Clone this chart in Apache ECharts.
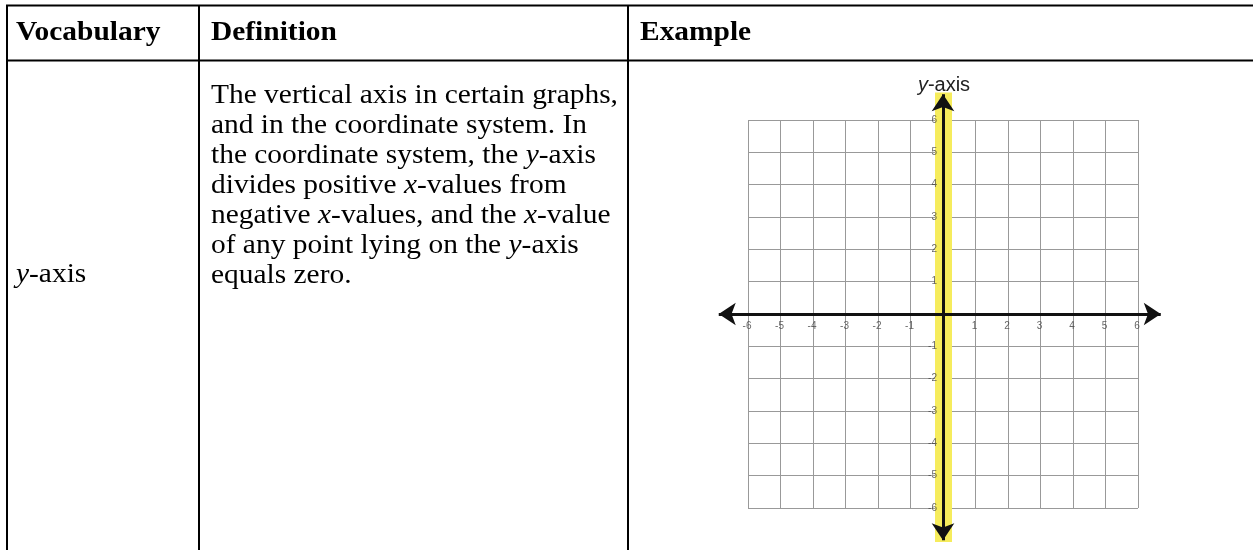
<!DOCTYPE html>
<html>
<head>
<meta charset="utf-8">
<script src="https://cdn.jsdelivr.net/npm/echarts@6/dist/echarts.min.js"></script>
<style>
html,body{margin:0;padding:0;background:#fff;}
#chart{width:1253px;height:550px;}
</style>
</head>
<body>
<div id="chart"></div>
<script>
// ---- data ----
const headers = ['Vocabulary', 'Definition', 'Example'];
const vocabTerm = '{m|y}-axis';
const definitionLines = [
  'The vertical axis in certain graphs,',
  'and in the coordinate system. In',
  'the coordinate system, the {m|y}-axis',
  'divides positive {m|x}-values from',
  'negative {m|x}-values, and the {m|x}-value',
  'of any point lying on the {m|y}-axis',
  'equals zero.'
];
const graphTitle = '{i|y}-axis';
const axisMin = -6;
const axisMax = 6;
const axisStep = 1;
const xTickLabels = [-6, -5, -4, -3, -2, -1, 1, 2, 3, 4, 5, 6];
const yTickLabels = [6, 5, 4, 3, 2, 1, -1, -2, -3, -4, -5, -6];
const xArrow = [[-6.9, 0], [6.7, 0]];
const yArrow = [[0, 6.8], [0, -7.0]];
const yHighlight = [[0, 6.85], [0, -7.05]];

// ---- layout ----
const chart = echarts.init(document.getElementById('chart'), null, {renderer: 'canvas'});
const SX = 1.09;
const FS = 27;
const serif = 'Liberation Serif';
const richMath = {
  m: {fontFamily: serif, fontStyle: 'italic', fontSize: FS, fill: '#000', color: '#000'}
};
function txt(text, x, y, bold) {
  return {
    type: 'text', x: x, y: y, scaleX: SX, scaleY: 1, originX: 0, originY: 0, z: 10,
    style: {
      text: text, fill: '#000', fontFamily: serif, fontSize: FS,
      fontWeight: bold ? 'bold' : 'normal', verticalAlign: 'middle', align: 'left',
      rich: richMath
    }
  };
}
const graphics = [];
const ln = (x1, y1, x2, y2) => ({type: 'line', z: 10, shape: {x1, y1, x2, y2}, style: {stroke: '#000', lineWidth: 2}});
graphics.push(ln(6, 5.5, 1253, 5.5));
graphics.push(ln(6, 60.5, 1253, 60.5));
graphics.push(ln(7, 5, 7, 550));
graphics.push(ln(199, 5, 199, 550));
graphics.push(ln(628, 5, 628, 550));
graphics.push(txt(headers[0], 16, 33, true));
graphics.push(txt(headers[1], 211, 33, true));
graphics.push(txt(headers[2], 640, 33, true));
definitionLines.forEach((l, i) => graphics.push(txt(l, 211, 96 + i * 30, false)));
graphics.push(txt(vocabTerm, 16, 275, false));
graphics.push({
  type: 'text', x: 944, y: 85, z: 10,
  style: {
    text: graphTitle, fill: '#222', fontFamily: 'Liberation Sans', fontSize: 20,
    align: 'center', verticalAlign: 'middle',
    rich: {i: {fontFamily: 'Liberation Sans', fontStyle: 'italic', fontSize: 20, fill: '#222', color: '#222'}}
  }
});

const gridLine = {show: true, lineStyle: {color: '#999999', width: 1}};
const option = {
  animation: false,
  backgroundColor: '#fff',
  grid: {left: 748, top: 120, width: 390, height: 388, containLabel: false},
  xAxis: {
    type: 'value', min: axisMin, max: axisMax, interval: axisStep,
    axisLine: {show: false}, axisTick: {show: false}, axisLabel: {show: false},
    splitLine: gridLine
  },
  yAxis: {
    type: 'value', min: axisMin, max: axisMax, interval: axisStep,
    axisLine: {show: false}, axisTick: {show: false}, axisLabel: {show: false},
    splitLine: gridLine
  },
  series: [
    {
      type: 'lines', coordinateSystem: 'cartesian2d', clip: false, z: 1,
      data: [{coords: yHighlight}],
      symbol: ['none', 'none'],
      lineStyle: {color: '#f6ec5c', width: 17, opacity: 1, cap: 'butt'}
    },
    {
      type: 'scatter', z: 4, symbolSize: 0, silent: true,
      data: xTickLabels.map(v => [v, 0]),
      label: {show: true, position: 'bottom', distance: 7, offset: [-1, 0],
        formatter: p => String(p.value[0]), fontSize: 10, color: '#444', fontFamily: 'Liberation Sans'}
    },
    {
      type: 'scatter', z: 4, symbolSize: 0, silent: true,
      data: yTickLabels.map(v => [0, v]),
      label: {show: true, position: 'left', distance: 6,
        formatter: p => String(p.value[1]), fontSize: 10, color: '#444', fontFamily: 'Liberation Sans'}
    },
    {
      type: 'lines', coordinateSystem: 'cartesian2d', clip: false, z: 3,
      data: [{coords: xArrow}, {coords: yArrow}],
      symbol: ['arrow', 'arrow'], symbolSize: 17,
      lineStyle: {color: '#111', width: 3, opacity: 1}
    }
  ],
  graphic: graphics
};
chart.setOption(option);
</script>
</body>
</html>
